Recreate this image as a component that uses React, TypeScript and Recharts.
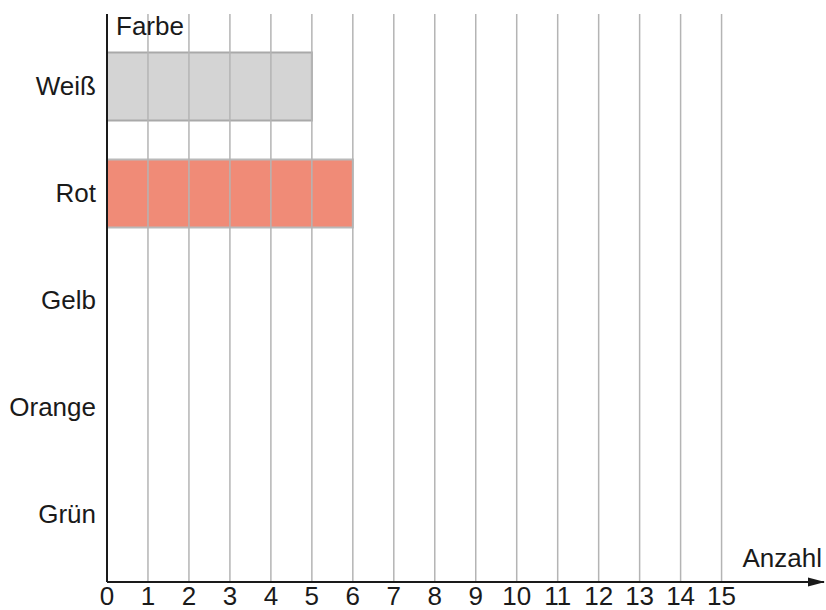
import { BarChart, Bar, XAxis, YAxis, Cell, ReferenceLine } from "recharts";

// Farben der Balken und gezählte Anzahl
const farben = ["Weiß", "Rot", "Gelb", "Orange", "Grün"];
const anzahl = [5, 6, 0, 0, 0];
const balkenFarben = ["#d4d4d4", "#f08b77", "#ffffff", "#ffffff", "#ffffff"];
const randFarben = ["#a9a9a9", "#b9b9b9", "#b9b9b9", "#b9b9b9", "#b9b9b9"];
const xTicks = [0, 1, 2, 3, 4, 5, 6, 7, 8, 9, 10, 11, 12, 13, 14, 15];

const FONT = '"Liberation Sans", Arial, sans-serif';
const GRID = "#b4b4b4";

const data = farben.map((name, i) => ({ name, anzahl: anzahl[i] }));

/** x-axis label: arrow head at the right end plus "Anzahl" */
function AnzahlLabel(props: any) {
  const vb = props.viewBox || {};
  const x = vb.x ?? 0;
  const y = vb.y ?? 0;
  const w = vb.width ?? 0;
  const tip = x + w + 1;
  return (
    <g>
      <polygon
        points={`${tip},${y} ${tip - 17},${y - 4.5} ${tip - 17},${y + 4.5}`}
        fill="#1a1a1a"
      />
      <text x={tip - 3} y={y - 15} textAnchor="end" fontSize={26} fontFamily={FONT} fill="#1a1a1a">
        Anzahl
      </text>
    </g>
  );
}

/** y-axis label "Farbe" just right of the axis top */
function FarbeLabel(props: any) {
  const vb = props.viewBox || {};
  const x = (vb.x ?? 0) + (vb.width ?? 0);
  const y = vb.y ?? 0;
  return (
    <text x={x + 9} y={y + 21} fontSize={26} fontFamily={FONT} fill="#1a1a1a">
      Farbe
    </text>
  );
}

export default function App() {
  return (
    <div style={{ position: "absolute", left: 0, top: 0, background: "#fff" }}>
      <BarChart
        width={826}
        height={610}
        data={data}
        layout="vertical"
        margin={{ top: 14, right: 2, left: 7, bottom: 0 }}
      >
        <XAxis
          type="number"
          dataKey="anzahl"
          domain={[0, 17.5]}
          ticks={xTicks}
          interval={0}
          allowDataOverflow
          height={28}
          tickSize={0}
          tickMargin={5}
          tick={{ fill: "#1a1a1a", fontSize: 26, fontFamily: FONT }}
          axisLine={{ stroke: "#1a1a1a", strokeWidth: 2 }}
          label={{ content: AnzahlLabel }}
        />
        <YAxis
          type="category"
          dataKey="name"
          width={100}
          padding={{ top: 18.5, bottom: 14.5 }}
          tickSize={0}
          tickMargin={11}
          tick={{ fill: "#1a1a1a", fontSize: 26, fontFamily: FONT }}
          axisLine={{ stroke: "#1a1a1a", strokeWidth: 2 }}
          label={{ content: FarbeLabel }}
        />
        <Bar dataKey="anzahl" barSize={68} strokeWidth={2} isAnimationActive={false}>
          {data.map((d, i) => (
            <Cell key={d.name} fill={balkenFarben[i]} stroke={randFarben[i]} />
          ))}
        </Bar>
        {xTicks
          .filter((t) => t > 0)
          .map((t) => (
            <ReferenceLine key={t} x={t} stroke={GRID} strokeWidth={1.5} />
          ))}
      </BarChart>
    </div>
  );
}
